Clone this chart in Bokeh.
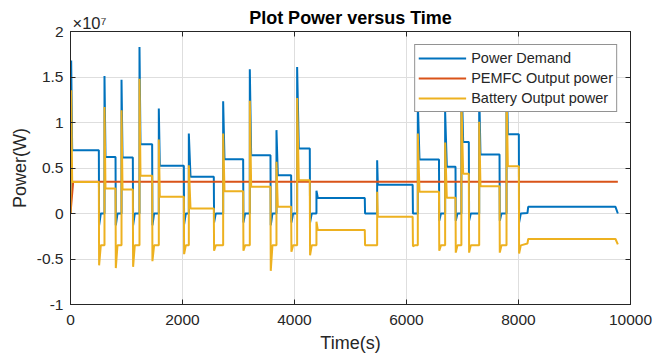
from bokeh.plotting import figure
from bokeh.models import (Range1d, LinearAxis, FixedTicker, CustomJSTickFormatter,
                          Legend, LegendItem)
from bokeh.embed import file_html
from bokeh.resources import INLINE

FONT = "Liberation Sans"
AX = "#262626"

# ---------------- data (time in s, power in W) ----------------
spike_t      = [12, 607, 911, 1232, 1577, 2113, 2726, 3202, 3678, 4047, 4392, 5476, 6202, 6690, 6980, 7298, 7786]
plateau_t0   = [30, 625, 929, 1250, 1595, 2143, 2750, 3226, 3702, 4077, 4416, 5488, 6232, 6720, 7012, 7321, 7810]
plateau_t1   = [506, 804, 1113, 1458, 2024, 2559, 3083, 3571, 3940, 4273, 5255, 6110, 6580, 6875, 7113, 7661, 8006]

demand_peak  = [1.68e7, 1.51e7, 1.47e7, 1.83e7, 1.154e7, 0.88e7, 1.234e7, 1.586e7, 0.916e7, 1.61e7,
                0.25e7, 0.586e7, 1.23e7, 1.117e7, 1.62e7, 1.36e7, 1.75e7]
demand_level = [0.696e7, 0.62e7, 0.615e7, 0.762e7, 0.524e7, 0.405e7, 0.597e7, 0.641e7, 0.421e7, 0.714e7,
                0.17e7, 0.315e7, 0.593e7, 0.515e7, 0.785e7, 0.648e7, 0.872e7]
demand_dip   = [-0.13e7, -0.13e7, -0.13e7, -0.13e7, -0.12e7, -0.1e7, -0.1e7, -0.13e7, -0.1e7, -0.1e7,
                0.0, 0.0, -0.08e7, -0.08e7, -0.08e7, -0.08e7, -0.1e7]
demand_idle  = 0.0

battery_peak  = [1.355e7, 1.17e7, 1.135e7, 1.48e7, 0.813e7, 0.53e7, 0.879e7, 1.238e7, 0.568e7, 1.27e7,
                 -0.09e7, 0.238e7, 0.88e7, 0.78e7, 1.27e7, 1.007e7, 1.40e7]
battery_level = [0.346e7, 0.275e7, 0.264e7, 0.414e7, 0.183e7, 0.055e7, 0.245e7, 0.293e7, 0.073e7, 0.366e7,
                 -0.18e7, -0.037e7, 0.238e7, 0.172e7, 0.437e7, 0.30e7, 0.52e7]
battery_dip   = [-0.57e7, -0.60e7, -0.586e7, -0.524e7, -0.447e7, -0.41e7, -0.41e7, -0.63e7, -0.42e7, -0.46e7,
                 -0.35e7, -0.36e7, -0.41e7, -0.43e7, -0.43e7, -0.43e7, -0.44e7]
battery_idle  = -0.35e7

tail_t        = [8160, 8173, 9732, 9774]
demand_tail   = [0.005e7, 0.073e7, 0.073e7, 0.0]
battery_tail  = [-0.33e7, -0.28e7, -0.28e7, -0.34e7]

fc_t = [0, 48, 9774]
fc_w = [0.0, 0.35e7, 0.35e7]

x_ticks = [0, 2000, 4000, 6000, 8000, 10000]
y_ticks = [-1e7, -0.5e7, 0, 0.5e7, 1e7, 1.5e7, 2e7]

title_text = "Plot Power versus Time"
x_label = "Time(s)"
y_label = "Power(W)"
exponent_text = "\u00d710\u2077"
series_names = ["Power Demand", "PEMFC Output power", "Battery Output power"]
series_colors = ["#0072BD", "#D95319", "#EDB120"]


def trace(start, idle, peak, level, dip, tail_vals):
    t, v = [0], [start]
    for i in range(len(spike_t)):
        if i > 0:
            t.append(spike_t[i]); v.append(idle)
        t += [spike_t[i], plateau_t0[i], plateau_t1[i], plateau_t1[i] + 5, plateau_t1[i] + 35]
        v += [peak[i], level[i], level[i], dip[i], idle]
    t += tail_t
    v += tail_vals
    return t, v


dem_t, dem_v = trace(0.0, demand_idle, demand_peak, demand_level, demand_dip, demand_tail)
bat_t, bat_v = trace(0.0, battery_idle, battery_peak, battery_level, battery_dip, battery_tail)

# ---------------- figure ----------------
p = figure(width=654, height=359, output_backend="svg", toolbar_location=None,
           x_range=Range1d(0, 10000), y_range=Range1d(-1e7, 2e7),
           min_border_left=70, min_border_right=24, min_border_top=31, min_border_bottom=55)
p.title.visible = False
p.background_fill_color = "white"
p.border_fill_color = "white"
p.outline_line_color = AX
p.outline_line_width = 1

p.xaxis.ticker = FixedTicker(ticks=x_ticks)
p.yaxis.ticker = FixedTicker(ticks=y_ticks)
p.yaxis.formatter = CustomJSTickFormatter(code="return String(Math.round(tick / 1e6) / 10);")
for ax in (p.xaxis[0], p.yaxis[0]):
    ax.axis_line_color = AX
    ax.major_tick_line_color = AX
    ax.major_tick_in = 5
    ax.major_tick_out = 0
    ax.minor_tick_line_color = None
    ax.major_label_text_font = FONT
    ax.major_label_text_font_size = "15.5px"
    ax.major_label_text_color = AX
    ax.axis_label_text_font = FONT
    ax.axis_label_text_font_size = "18px"
    ax.axis_label_text_font_style = "normal"
    ax.axis_label_text_color = AX
p.xaxis.major_label_standoff = 10
p.yaxis.major_label_standoff = 7
p.xaxis.axis_label = x_label
p.yaxis.axis_label = y_label
p.xaxis.axis_label_standoff = 5
p.yaxis.axis_label_standoff = 4

# top axis: inward ticks, exponent label and the title
top = LinearAxis(ticker=FixedTicker(ticks=[340], minor_ticks=x_ticks),
                 formatter=CustomJSTickFormatter(code="return '%s';" % exponent_text),
                 major_tick_line_color=None, minor_tick_line_color=AX,
                 minor_tick_in=5, minor_tick_out=0, major_tick_in=0, major_tick_out=0,
                 axis_line_color=AX, major_label_standoff=0,
                 major_label_text_font=FONT, major_label_text_font_size="16.5px",
                 major_label_text_color=AX,
                 axis_label=title_text, axis_label_standoff=-17,
                 axis_label_text_font=FONT, axis_label_text_font_size="18px",
                 axis_label_text_font_style="bold", axis_label_text_color="black")
p.add_layout(top, "above")

right = LinearAxis(ticker=FixedTicker(ticks=y_ticks), formatter=CustomJSTickFormatter(code="return '';"),
                   major_label_text_font_size="0px", major_tick_in=5, major_tick_out=0,
                   minor_tick_line_color=None, axis_line_color=AX, major_tick_line_color=AX,
                   major_label_standoff=0)
p.add_layout(right, "right")

p.xgrid.grid_line_color = "#dedede"
p.ygrid.grid_line_color = "#dedede"

r_dem = p.line(dem_t, dem_v, line_color=series_colors[0], line_width=2)
r_fc = p.line(fc_t, fc_w, line_color=series_colors[1], line_width=2)
r_bat = p.line(bat_t, bat_v, line_color=series_colors[2], line_width=2)

legend = Legend(items=[LegendItem(label=series_names[0], renderers=[r_dem]),
                       LegendItem(label=series_names[1], renderers=[r_fc]),
                       LegendItem(label=series_names[2], renderers=[r_bat])],
                location="top_right", margin=13, padding=3, spacing=0,
                glyph_width=48, glyph_height=20, label_height=20, label_standoff=5,
                label_text_font=FONT, label_text_font_size="14.5px", label_text_color=AX,
                border_line_color=AX, border_line_width=1,
                background_fill_color="white", background_fill_alpha=1.0)
p.add_layout(legend)

open("out.html", "w", encoding="utf-8").write(file_html(p, INLINE))
